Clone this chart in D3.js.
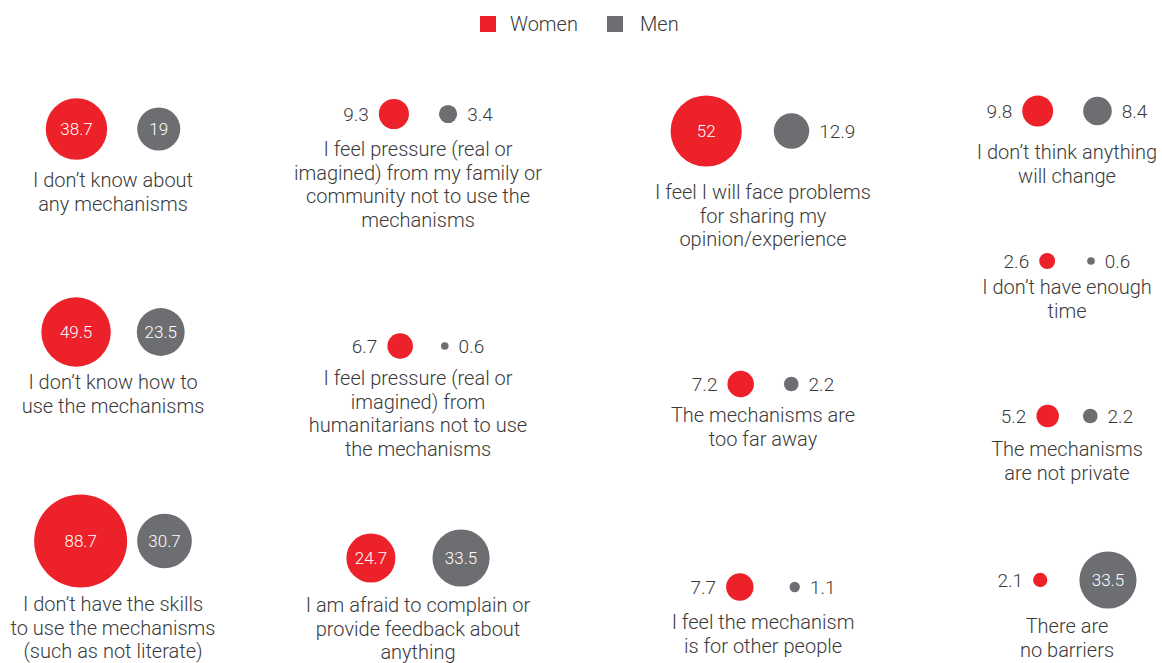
<!DOCTYPE html>
<html>
<head>
<meta charset="utf-8">
<script src="https://cdn.jsdelivr.net/npm/d3@7"></script>
<style>
  body { margin: 0; background: #fff; }
  text { font-family: Roboto, "Liberation Sans", sans-serif; font-weight: 300; }
</style>
</head>
<body>
<svg id="chart" width="1162" height="663"></svg>
<script>
// data
const labels = [
  "I don’t know about\nany mechanisms",
  "I don’t know how to\nuse the mechanisms",
  "I don’t have the skills\nto use the mechanisms\n(such as not literate)",
  "I feel pressure (real or\nimagined) from my family or\ncommunity not to use the\nmechanisms",
  "I feel pressure (real or\nimagined) from\nhumanitarians  not to use\nthe mechanisms",
  "I am afraid to complain or\nprovide feedback about\nanything",
  "I feel I will face problems\nfor sharing my\nopinion/experience",
  "The mechanisms are\ntoo far away",
  "I feel the mechanism\nis for other people",
  "I don’t think anything\nwill change",
  "I don’t have enough\ntime",
  "The mechanisms\nare not private",
  "There are\nno barriers"
];
const women = [38.7, 49.5, 88.7, 9.3, 6.7, 24.7, 52, 7.2, 7.7, 9.8, 2.6, 5.2, 2.1];
const men   = [19, 23.5, 30.7, 3.4, 0.6, 33.5, 12.9, 2.2, 1.1, 8.4, 0.6, 2.2, 33.5];
const series = ["Women", "Men"];

// layout (column, bubble row, first label line, spacing between the two bubbles)
const itemCol = [0, 0, 0, 1, 1, 1, 2, 2, 2, 3, 3, 3, 3];
const itemRowY = [129, 332, 541, 114, 346, 558, 131, 384, 587, 111, 261, 416, 580];
const itemLabelY = [180, 382, 604, 149, 378, 605, 192, 415, 622, 152, 287, 449, 626];
const itemGap = [30, 26, 10, 30, 28, 37, 32, 30, 36, 30, 32, 24, 32];

const svg = d3.select("#chart");
const color = d3.scaleOrdinal().domain(series).range(["#ed2129", "#6d6e71"]);
const colX = d3.scaleOrdinal().domain([0, 1, 2, 3]).range([113, 418, 763, 1067]);
const r = d3.scaleSqrt().domain([0, 88.7]).range([0, 46.5]);
const labelPad = 10, insideMin = 15, lineH = 23.7;
const textColor = "#3a3a3a";

// legend
const legend = svg.append("g").attr("transform", "translate(480,16)");
const legX = [0, 127];
series.forEach((s, i) => {
  const g = legend.append("g").attr("transform", `translate(${legX[i]},0)`);
  g.append("rect").attr("width", 16).attr("height", 16).attr("fill", color(s));
  g.append("text").attr("x", i ? 33 : 30).attr("y", 8).attr("dy", "0.35em")
    .attr("font-size", 20).attr("fill", textColor).text(s);
});

const items = labels.map((label, i) => ({
  label, w: women[i], m: men[i], col: itemCol[i],
  y: itemRowY[i], ly: itemLabelY[i], gap: itemGap[i]
}));

items.forEach(d => {
  const g = svg.append("g");
  const rw = r(d.w), rm = r(d.m);
  const wIn = d.w >= insideMin, mIn = d.m >= insideMin;

  // value labels
  const wText = g.append("text").attr("dy", "0.35em").attr("font-size", wIn ? 17 : 19)
    .attr("fill", wIn ? "#fff" : textColor)
    .attr("text-anchor", wIn ? "middle" : "end").text(d.w);
  const mText = g.append("text").attr("dy", "0.35em").attr("font-size", mIn ? 17 : 19)
    .attr("fill", mIn ? "#fff" : textColor)
    .attr("text-anchor", mIn ? "middle" : "start").text(d.m);

  const wLabW = wIn ? 0 : wText.node().getComputedTextLength() + labelPad;
  const mLabW = mIn ? 0 : mText.node().getComputedTextLength() + labelPad;
  const total = wLabW + 2 * rw + d.gap + 2 * rm + mLabW;
  const x0 = colX(d.col) - total / 2;
  const wx = x0 + wLabW + rw;
  const mx = wx + rw + d.gap + rm;

  g.insert("circle", "text").attr("cx", wx).attr("cy", d.y).attr("r", rw).attr("fill", color("Women"));
  g.insert("circle", "text").attr("cx", mx).attr("cy", d.y).attr("r", rm).attr("fill", color("Men"));

  wText.attr("x", wIn ? wx : wx - rw - labelPad).attr("y", d.y);
  mText.attr("x", mIn ? mx : mx + rm + labelPad).attr("y", d.y);

  // category label
  g.append("text").attr("text-anchor", "middle").attr("font-size", 20).attr("fill", textColor)
    .selectAll("tspan")
    .data(d.label.split("\n"))
    .join("tspan")
    .attr("x", colX(d.col))
    .attr("y", (t, j) => d.ly + j * lineH)
    .attr("dy", "0.35em")
    .text(t => t);
});
</script>
</body>
</html>
